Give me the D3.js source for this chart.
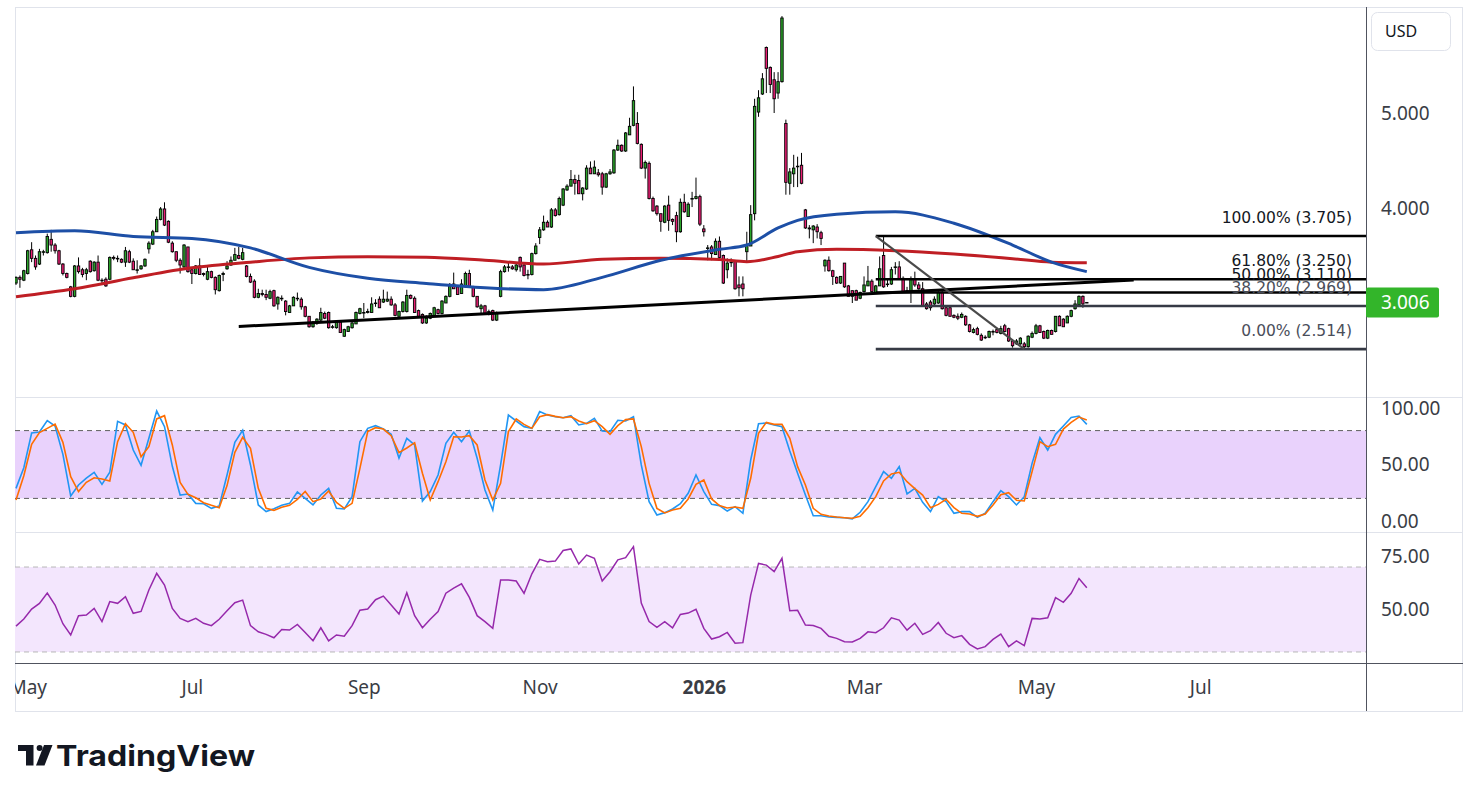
<!DOCTYPE html>
<html>
<head>
  <meta charset="UTF-8">
  <title>Daily chart with Stoch RSI and RSI</title>
  <style>
    body { margin: 0; background: #ffffff; }
    svg { display: block; font-family: "Noto Sans", "DejaVu Sans", sans-serif; }
  </style>
</head>
<body>
<svg></svg>

<script src="https://d3js.org/d3.v7.min.js"></script>
<script>

let width = 1473, height = 802;

// daily candles, one value per bar
let opens = [
3.21,3.27,3.24,3.31,3.56,3.47,3.41,3.54,3.53,3.67, 3.61,3.55,3.41,3.31,3.17,3.07,3.39,3.35,3.31,3.44,
3.34,3.43,3.24,3.25,3.25,3.48,3.47,3.46,3.43,3.54, 3.44,3.35,3.36,3.39,3.57,3.62,3.75,3.88,3.99,3.86,
3.63,3.54,3.45,3.38,3.59,3.35,3.31,3.39,3.31,3.25, 3.33,3.27,3.13,3.30,3.36,3.40,3.45,3.50,3.46,3.39,
3.28,3.23,3.06,3.10,3.09,3.05,3.13,2.99,3.05,3.02, 2.90,2.97,3.05,3.04,2.96,2.86,2.75,2.79,2.82,2.89,
2.90,2.75,2.74,2.80,2.65,2.70,2.74,2.78,2.89,2.90, 2.90,2.90,3.00,3.04,3.01,3.02,3.04,2.98,2.86,2.91,
2.91,3.08,3.05,2.92,2.88,2.79,2.84,2.86,2.93,2.89, 3.00,3.07,3.20,3.17,3.10,3.17,3.31,3.17,3.07,2.94,
2.97,2.90,2.92,2.82,3.07,3.33,3.38,3.38,3.35,3.48, 3.40,3.30,3.30,3.52,3.69,3.77,3.85,3.80,3.98,3.93,
4.03,4.19,4.23,4.30,4.29,4.15,4.20,4.42,4.36,4.37, 4.36,4.22,4.36,4.37,4.61,4.66,4.60,4.77,4.87,4.89,
4.67,4.42,4.47,4.10,4.02,3.94,3.85,4.03,3.88,3.92, 3.75,4.06,3.91,4.10,4.10,4.12,3.78,3.58,3.59,3.51,
3.65,3.50,3.35,3.43,3.44,3.19,3.20,3.54,3.60,3.94, 5.01,5.20,5.69,5.48,5.35,5.21,5.33,4.89,4.26,4.36,
4.44,4.45,3.98,3.79,3.77,3.80,3.74,3.39,3.45,3.34, 3.27,3.21,3.42,3.18,3.13,3.13,3.05,3.12,3.18,3.23,
3.11,3.18,3.50,3.20,3.20,3.38,3.38,3.26,3.13,3.12, 3.25,3.19,3.15,2.99,3.01,2.99,3.00,3.11,2.95,2.95,
2.87,2.86,2.85,2.86,2.77,2.69,2.73,2.66,2.64,2.64, 2.70,2.72,2.68,2.76,2.73,2.60,2.57,2.57,2.57,2.54,
2.64,2.68,2.76,2.70,2.63,2.71,2.70,2.86,2.83,2.79, 2.86,2.94,2.98,3.07,3.006];

let highs = [
3.28,3.29,3.35,3.56,3.64,3.50,3.57,3.56,3.73,3.77, 3.63,3.56,3.42,3.32,3.18,3.40,3.48,3.37,3.37,3.45,
3.44,3.50,3.26,3.27,3.49,3.50,3.50,3.47,3.59,3.56, 3.47,3.45,3.40,3.47,3.65,3.77,3.91,4.01,4.06,3.87,
3.65,3.54,3.47,3.62,3.59,3.36,3.40,3.47,3.32,3.38, 3.34,3.28,3.30,3.33,3.44,3.49,3.58,3.59,3.58,3.40,
3.31,3.25,3.15,3.14,3.14,3.14,3.14,3.07,3.08,3.03, 2.98,3.07,3.11,3.06,2.97,2.86,2.81,2.84,2.95,2.91,
2.91,2.77,2.81,2.81,2.73,2.76,2.80,2.91,2.95,3.00, 2.94,3.06,3.04,3.07,3.14,3.12,3.07,3.00,2.92,3.02,
3.14,3.09,3.07,2.93,2.89,2.87,2.90,2.96,2.94,3.03, 3.08,3.21,3.32,3.18,3.25,3.33,3.35,3.18,3.07,2.99,
2.98,2.93,2.93,2.91,3.35,3.40,3.43,3.40,3.43,3.49, 3.42,3.35,3.53,3.63,3.80,3.92,3.87,4.00,4.00,4.12,
4.21,4.25,4.40,4.35,4.35,4.22,4.45,4.49,4.50,4.41, 4.38,4.37,4.41,4.62,4.72,4.67,4.80,4.95,5.28,5.01,
4.68,4.50,4.49,4.12,4.03,3.94,4.03,4.13,3.89,3.96, 4.10,4.15,4.06,4.17,4.32,4.14,3.82,3.61,3.61,3.68,
3.70,3.51,3.47,3.47,3.45,3.28,3.28,3.75,4.03,5.15, 5.24,5.42,5.70,5.49,5.43,5.43,6.02,4.93,4.42,4.56,
4.54,4.58,3.99,3.82,3.82,3.83,3.76,3.46,3.49,3.35, 3.28,3.28,3.42,3.19,3.13,3.14,3.12,3.28,3.39,3.25,
3.19,3.49,3.705,3.25,3.38,3.43,3.44,3.28,3.17,3.28, 3.33,3.22,3.22,3.01,3.03,3.07,3.13,3.13,2.97,2.97,
2.88,2.89,2.90,2.87,2.78,2.74,2.75,2.68,2.66,2.71, 2.72,2.74,2.76,2.78,2.74,2.62,2.62,2.64,2.59,2.66,
2.70,2.78,2.77,2.71,2.72,2.72,2.86,2.87,2.84,2.87, 2.93,3.03,3.08,3.08,3.01];

let lows = [
3.19,3.16,3.23,3.30,3.43,3.35,3.40,3.50,3.52,3.54, 3.52,3.40,3.29,3.26,3.06,3.06,3.31,3.27,3.24,3.32,
3.33,3.23,3.21,3.17,3.24,3.45,3.43,3.42,3.38,3.42, 3.35,3.31,3.35,3.38,3.52,3.61,3.75,3.87,3.81,3.63,
3.53,3.43,3.31,3.37,3.32,3.20,3.30,3.30,3.28,3.24, 3.26,3.09,3.12,3.23,3.35,3.39,3.45,3.46,3.45,3.27,
3.21,3.05,3.05,3.07,3.03,3.04,2.96,2.93,3.02,2.87, 2.90,2.97,3.02,2.93,2.85,2.74,2.74,2.77,2.81,2.83,
2.73,2.73,2.73,2.69,2.645,2.70,2.73,2.78,2.88,2.84, 2.89,2.90,2.96,2.95,3.00,3.01,2.97,2.86,2.86,2.90,
2.90,3.04,2.90,2.85,2.78,2.78,2.83,2.86,2.88,2.88, 3.00,3.06,3.15,3.09,3.10,3.16,3.16,3.06,2.95,2.89,
2.88,2.87,2.81,2.81,3.06,3.32,3.33,3.35,3.33,3.33, 3.28,3.25,3.29,3.51,3.62,3.76,3.80,3.79,3.91,3.92,
4.02,4.18,4.23,4.14,4.15,4.08,4.19,4.36,4.36,4.33, 4.14,4.21,4.35,4.36,4.60,4.59,4.59,4.77,4.86,4.67,
4.41,4.31,4.09,3.96,3.92,3.75,3.84,3.76,3.82,3.64, 3.74,3.95,3.91,4.01,4.09,3.81,3.70,3.45,3.45,3.51,
3.47,3.20,3.26,3.38,3.14,3.07,3.07,3.43,3.60,3.87, 4.96,5.19,5.21,5.21,5.00,5.15,5.32,4.14,4.14,4.22,
4.22,4.25,3.78,3.68,3.63,3.68,3.61,3.33,3.33,3.19, 3.20,3.20,3.16,3.07,3.00,3.03,3.04,3.11,3.18,3.11,
3.10,3.18,3.16,3.17,3.19,3.30,3.25,3.11,3.11,3.00, 3.17,3.14,2.96,2.93,2.92,2.98,2.99,2.93,2.86,2.86,
2.84,2.82,2.84,2.76,2.69,2.68,2.66,2.60,2.62,2.63, 2.66,2.68,2.67,2.69,2.59,2.53,2.56,2.56,2.514,2.53,
2.63,2.67,2.69,2.62,2.62,2.67,2.69,2.76,2.75,2.79, 2.85,2.93,2.97,2.95,3.00];

let closes = [
3.27,3.25,3.34,3.55,3.47,3.38,3.54,3.54,3.70,3.61, 3.55,3.41,3.31,3.27,3.07,3.39,3.33,3.30,3.35,3.33,
3.43,3.24,3.24,3.18,3.48,3.47,3.47,3.43,3.55,3.43, 3.35,3.35,3.39,3.46,3.63,3.75,3.88,3.99,3.82,3.64,
3.54,3.45,3.40,3.61,3.33,3.31,3.39,3.30,3.30,3.33, 3.27,3.14,3.29,3.31,3.39,3.45,3.51,3.47,3.53,3.28,
3.22,3.06,3.10,3.09,3.06,3.12,2.97,3.06,3.05,2.91, 2.97,3.06,3.05,2.96,2.86,2.75,2.80,2.83,2.90,2.84,
2.74,2.75,2.80,2.69,2.72,2.75,2.79,2.90,2.94,2.90, 2.91,2.99,3.00,2.95,3.04,3.04,2.98,2.87,2.91,3.01,
3.08,3.05,2.90,2.86,2.79,2.84,2.89,2.95,2.89,3.02, 3.07,3.18,3.15,3.09,3.20,3.31,3.17,3.07,2.96,2.97,
2.89,2.91,2.82,2.90,3.33,3.38,3.38,3.36,3.40,3.38, 3.29,3.30,3.52,3.60,3.77,3.85,3.80,3.98,3.92,4.10,
4.20,4.23,4.30,4.26,4.15,4.21,4.42,4.36,4.43,4.35, 4.22,4.36,4.38,4.61,4.66,4.60,4.79,4.86,5.13,4.68,
4.42,4.48,4.10,3.97,3.94,3.86,4.02,3.87,3.86,3.75, 4.06,3.96,4.04,4.10,4.12,3.83,3.75,3.58,3.52,3.65,
3.48,3.21,3.42,3.43,3.15,3.16,3.15,3.61,3.93,5.07, 5.16,5.36,5.47,5.30,5.15,5.33,6.00,4.27,4.38,4.42,
4.44,4.26,3.79,3.78,3.81,3.75,3.68,3.45,3.34,3.28, 3.21,3.28,3.17,3.07,3.07,3.03,3.11,3.19,3.23,3.12,
3.18,3.36,3.17,3.20,3.35,3.38,3.25,3.12,3.12,3.25, 3.19,3.15,2.97,2.94,2.95,3.04,3.11,2.94,2.87,2.86,
2.85,2.84,2.88,2.77,2.70,2.72,2.67,2.61,2.64,2.70, 2.70,2.69,2.73,2.70,2.60,2.55,2.60,2.63,2.54,2.65,
2.68,2.76,2.69,2.63,2.71,2.67,2.86,2.76,2.75,2.86, 2.92,2.99,3.07,2.99,3.006];

// moving averages read at these bars
let maBars = [0,15,30,45,60,75,90,105,120,135,150,165,180,187,195,200,210,225,240,255,265,274];
let maBlue = [3.74,3.76,3.70,3.68,3.58,3.375,3.26,3.205,3.16,3.14,3.27,3.45,3.565,3.61,3.79,3.87,3.935,3.96,3.84,3.61,3.43,3.33];
let maRed  = [3.066,3.15,3.265,3.37,3.43,3.475,3.487,3.482,3.45,3.41,3.46,3.47,3.457,3.435,3.49,3.54,3.565,3.55,3.515,3.467,3.43,3.424];

// indicators, one value every 2nd bar
let stochK = [
28.9,47.2,77.9,78.8,88.8,84.1,59.0,22.1,31.9,38.0, 43.1,32.4,43.1,88.2,85.0,62.8,49.3,73.2,97.3,83.5,
48.4,23.0,23.9,15.6,15.3,11.2,13.3,40.7,69.6,80.2, 49.6,14.2,8.3,10.9,13.9,15.6,25.7,20.1,14.2,23.0,
28.9,11.2,10.6,21.5,70.2,82.0,84.4,81.4,76.7,55.7, 73.2,67.3,17.7,26.0,40.7,68.7,78.5,70.2,79.6,55.5,
27.4,9.7,49.6,93.8,88.5,83.5,82.0,96.8,93.8,92.3, 91.4,93.2,85.0,86.4,90.9,79.6,79.1,89.1,88.5,92.3,
49.6,17.1,5.3,7.4,10.6,15.3,24.5,40.7,26.0,14.7, 13.6,8.8,12.7,6.8,54.0,86.1,86.7,85.0,83.5,61.9,
42.2,23.0,4.7,4.7,3.5,3.2,2.9,1.8,7.7,17.1, 30.4,43.7,37.8,48.1,23.9,28.9,16.5,8.3,21.5,17.1,
6.8,8.3,8.3,3.2,6.8,17.1,26.8,21.5,14.2,21.5, 51.0,73.7,62.8,76.7,84.1,91.7,92.9,85.5];
let stochD = [
18.6,40.1,67.8,78.2,82.0,85.8,69.6,39.2,26.0,34.2, 38.3,37.2,35.4,70.2,86.1,78.5,56.9,65.8,90.3,93.2,
67.3,34.2,23.6,20.6,16.2,13.9,11.8,31.3,60.8,74.0, 64.3,28.9,11.2,9.4,12.1,13.9,19.2,26.2,17.1,19.5,
26.5,16.5,11.2,15.6,46.6,79.1,82.6,81.4,75.5,60.5, 64.6,69.3,42.2,18.6,34.8,52.5,74.6,74.3,75.5,67.3,
36.3,18.6,33.3,79.1,90.3,85.5,82.0,92.3,94.1,92.6, 91.4,92.3,88.5,86.1,88.8,83.5,76.7,84.4,89.7,90.3,
65.8,33.3,11.2,7.1,9.7,11.2,19.5,32.4,36.3,19.5, 13.6,11.5,12.4,11.2,37.8,77.6,87.3,85.5,85.5,73.2,
48.1,31.9,11.2,5.9,4.4,3.5,2.9,2.4,4.1,11.8, 21.5,35.4,41.6,43.1,34.8,28.6,23.0,11.8,14.7,19.2,
11.8,6.8,6.2,4.1,6.2,14.2,23.3,25.1,18.3,17.7, 43.7,70.2,65.8,67.8,81.4,87.3,92.0,89.4];
let rsi = [
42.2,45.5,50.2,52.9,57.7,52.1,43.3,38.0,47.1,47.4, 50.5,44.3,53.7,52.9,56.0,48.2,49.1,59.2,67.0,61.5,
50.5,45.8,44.3,45.8,43.5,42.4,45.4,49.4,53.2,54.4, 42.4,39.5,38.3,36.7,40.6,40.3,43.0,39.2,35.3,41.4,
35.2,38.0,37.4,42.4,49.7,50.2,54.6,56.3,52.1,47.9, 57.9,47.1,41.4,45.4,49.0,57.7,60.1,62.1,55.7,47.1,
44.3,41.1,63.9,63.9,63.4,57.6,66.8,73.6,72.5,72.8, 77.8,78.5,71.4,75.6,74.1,63.4,67.8,73.4,74.4,79.6,
53.0,44.3,41.6,44.3,41.4,47.7,48.3,50.1,41.1,36.1, 37.2,39.2,34.1,34.4,56.8,71.7,70.9,67.8,74.1,49.4,
49.6,42.7,42.5,41.1,37.4,36.4,34.8,34.7,36.4,39.5, 39.1,41.4,46.1,45.0,40.3,43.5,38.3,40.0,43.9,38.8,
36.7,37.7,33.6,31.4,32.5,35.9,38.4,32.5,35.2,33.0, 45.8,45.5,46.1,55.6,53.4,57.6,64.6,60.2];

let tickBars = [3, 45, 89, 134, 176, 217, 261, 303];
let tickLabels = ["May", "Jul", "Sep", "Nov", "2026", "Mar", "May", "Jul"];

let fibStart = 220;
let fibLevels = ["100.00%", "61.80%", "50.00%", "38.20%", "0.00%"];
let fibPrices = [3.705, 3.250, 3.110, 2.969, 2.514];
let trendLine = [[57, 2.753], [286, 3.242]];
let fibDiagonal = [[220, 3.705], [258, 2.514]];
let lastPrice = 3.006;

let svg = d3.select("svg")
    .attr("width", width)
    .attr("height", height)
    .attr("viewBox", "0 0 " + width + " " + height);

let left = 15, right = 1366, outerRight = 1463;

let x = d3.scaleLinear().domain([0, 274]).range([16, 1086.8]);
let yPrice = d3.scaleLinear().domain([4, 5]).range([208, 113]);
let yStoch = d3.scaleLinear().domain([0, 100]).range([521, 408]);
let yRsi = d3.scaleLinear().domain([50, 75]).range([609.5, 556.4]);

let defs = svg.append("defs");
function clip(id, y0, y1) {
  defs.append("clipPath").attr("id", id)
    .append("rect").attr("x", left).attr("y", y0).attr("width", right - left).attr("height", y1 - y0);
}
clip("clipPrice", 7, 396);
clip("clipStoch", 397, 532);
clip("clipRsi", 532, 663);
clip("clipTime", 663, 711);

// frame
svg.append("rect").attr("x", left + 0.5).attr("y", 7.5).attr("width", outerRight - left - 1).attr("height", 704)
  .attr("fill", "none").attr("stroke", "#e0e3eb");
[397, 532].forEach(yy => {
  svg.append("line").attr("x1", left).attr("x2", outerRight).attr("y1", yy + 0.5).attr("y2", yy + 0.5)
    .attr("stroke", "#e0e3eb");
});

// ---------- price pane ----------
let gp = svg.append("g").attr("clip-path", "url(#clipPrice)");

let bars = d3.range(closes.length);
gp.append("g").selectAll("line").data(bars).enter().append("line")
  .attr("x1", i => x(i)).attr("x2", i => x(i))
  .attr("y1", i => yPrice(highs[i])).attr("y2", i => yPrice(lows[i]))
  .attr("stroke", "#000").attr("stroke-width", 1);

gp.append("g").selectAll("rect").data(bars).enter().append("rect")
  .attr("x", i => x(i) - 1.2)
  .attr("width", 2.4)
  .attr("y", i => yPrice(Math.max(opens[i], closes[i])))
  .attr("height", i => Math.max(0.6, Math.abs(yPrice(opens[i]) - yPrice(closes[i]))))
  .attr("fill", i => closes[i] >= opens[i] ? "#2aa52a" : "#e91e73")
  .attr("stroke", "#000").attr("stroke-width", 0.9);

let maLine = d3.line().x(d => x(d[0])).y(d => yPrice(d[1])).curve(d3.curveMonotoneX);
gp.append("path").datum(maBars.map((b, j) => [b, maRed[j]]))
  .attr("d", maLine).attr("fill", "none").attr("stroke", "#bf1e24").attr("stroke-width", 3);
gp.append("path").datum(maBars.map((b, j) => [b, maBlue[j]]))
  .attr("d", maLine).attr("fill", "none").attr("stroke", "#1d4fa6").attr("stroke-width", 3);

// drawings
gp.append("line")
  .attr("x1", x(trendLine[0][0])).attr("y1", yPrice(trendLine[0][1]))
  .attr("x2", x(trendLine[1][0])).attr("y2", yPrice(trendLine[1][1]))
  .attr("stroke", "#000").attr("stroke-width", 3);

fibPrices.forEach((p, j) => {
  let grey = (j >= 3);
  gp.append("line")
    .attr("x1", x(fibStart)).attr("x2", right)
    .attr("y1", yPrice(p)).attr("y2", yPrice(p))
    .attr("stroke", grey ? "#363a45" : "#000").attr("stroke-width", 2.6);
  gp.append("text")
    .attr("x", 1352).attr("y", yPrice(p) - 13)
    .attr("text-anchor", "end")
    .style("font-family", '"DejaVu Sans", sans-serif')
    .style("font-size", "15.5px")
    .attr("fill", grey ? "#4a4e5a" : "#131722")
    .text(fibLevels[j] + " (" + p.toFixed(3) + ")");
});

gp.append("line")
  .attr("x1", x(fibDiagonal[0][0])).attr("y1", yPrice(fibDiagonal[0][1]))
  .attr("x2", x(fibDiagonal[1][0])).attr("y2", yPrice(fibDiagonal[1][1]))
  .attr("stroke", "#4a4a4a").attr("stroke-width", 2.2);

// ---------- stoch rsi pane ----------
let gs = svg.append("g").attr("clip-path", "url(#clipStoch)");
gs.append("rect").attr("x", left).attr("width", right - left)
  .attr("y", yStoch(80)).attr("height", yStoch(20) - yStoch(80)).attr("fill", "#e9d2fc");
[80, 20].forEach(v => {
  gs.append("line").attr("x1", left).attr("x2", right).attr("y1", yStoch(v)).attr("y2", yStoch(v))
    .attr("stroke", "#5d5d5d").attr("stroke-dasharray", "5,4");
});
let stochLine = d3.line().x((d, k) => x(2 * k)).y(d => yStoch(d));
gs.append("path").datum(stochK).attr("d", stochLine).attr("fill", "none")
  .attr("stroke", "#2196f3").attr("stroke-width", 1.6);
gs.append("path").datum(stochD).attr("d", stochLine).attr("fill", "none")
  .attr("stroke", "#ff6d00").attr("stroke-width", 1.6);

// ---------- rsi pane ----------
let gr = svg.append("g").attr("clip-path", "url(#clipRsi)");
gr.append("rect").attr("x", left).attr("width", right - left)
  .attr("y", yRsi(70)).attr("height", yRsi(30) - yRsi(70)).attr("fill", "#f3e6fd");
[70, 30].forEach(v => {
  gr.append("line").attr("x1", left).attr("x2", right).attr("y1", yRsi(v)).attr("y2", yRsi(v))
    .attr("stroke", "#b8b8b8").attr("stroke-dasharray", "5,4");
});
gr.append("path").datum(rsi)
  .attr("d", d3.line().x((d, k) => x(2 * k)).y(d => yRsi(d)))
  .attr("fill", "none").attr("stroke", "#9629ab").attr("stroke-width", 1.5);

// ---------- axes ----------
svg.append("line").attr("x1", right + 0.5).attr("x2", right + 0.5).attr("y1", 7).attr("y2", 711)
  .attr("stroke", "#50535e");
svg.append("line").attr("x1", left).attr("x2", outerRight).attr("y1", 663.5).attr("y2", 663.5)
  .attr("stroke", "#50535e");

function styleAxis(g) {
  g.select(".domain").remove();
  g.selectAll("text").style("font-size", "19px").attr("fill", "#3a3d45")
    .style("font-family", '"Noto Sans", "DejaVu Sans", sans-serif');
}

svg.append("g").attr("transform", "translate(" + right + ",0)")
  .call(d3.axisRight(yPrice).tickValues([4, 5]).tickFormat(d3.format(".3f")).tickSize(0).tickPadding(15))
  .call(styleAxis);
svg.append("g").attr("transform", "translate(" + right + ",0)")
  .call(d3.axisRight(yStoch).tickValues([0, 50, 100]).tickFormat(d3.format(".2f")).tickSize(0).tickPadding(15))
  .call(styleAxis);
svg.append("g").attr("transform", "translate(" + right + ",0)")
  .call(d3.axisRight(yRsi).tickValues([50, 75]).tickFormat(d3.format(".2f")).tickSize(0).tickPadding(15))
  .call(styleAxis);

let gt = svg.append("g").attr("clip-path", "url(#clipTime)");
gt.append("g").attr("transform", "translate(0,663)")
  .call(d3.axisBottom(x).tickValues(tickBars).tickFormat((d, i) => tickLabels[i]).tickSize(0).tickPadding(18))
  .call(styleAxis)
  .selectAll("text").style("font-weight", (d, i) => tickLabels[i] === "2026" ? "700" : "400");

// last price badge
svg.append("rect").attr("x", right).attr("y", yPrice(lastPrice) - 15).attr("width", 73).attr("height", 30)
  .attr("rx", 2).attr("fill", "#33b52a");
svg.append("text").attr("x", right + 15).attr("y", yPrice(lastPrice)).attr("dy", "0.35em")
  .style("font-size", "19px").attr("fill", "#ffffff").text(lastPrice.toFixed(3));

// currency box
svg.append("rect").attr("x", 1371.5).attr("y", 12.5).attr("width", 79).attr("height", 38).attr("rx", 6)
  .attr("fill", "#fff").attr("stroke", "#e0e3eb");
svg.append("text").attr("x", 1385).attr("y", 31.5).attr("dy", "0.35em")
  .style("font-size", "16px").attr("fill", "#131722").text("USD");

// logo
let logo = svg.append("g").attr("fill", "#131722");
logo.append("path").attr("d", "M18,745 H33.5 V765.5 H26 V751 H18 Z");
logo.append("circle").attr("cx", 39.6).attr("cy", 748).attr("r", 3);
logo.append("path").attr("d", "M44,745 H52.5 L44.5,765.5 H36 Z");
logo.append("text").attr("x", 56).attr("y", 765.5)
  .style("font-family", "Inter, Lato, sans-serif").style("font-weight", "700").style("font-size", "29px")
  .attr("textLength", 199).attr("lengthAdjust", "spacingAndGlyphs")
  .text("TradingView");

</script>
</body>
</html>
